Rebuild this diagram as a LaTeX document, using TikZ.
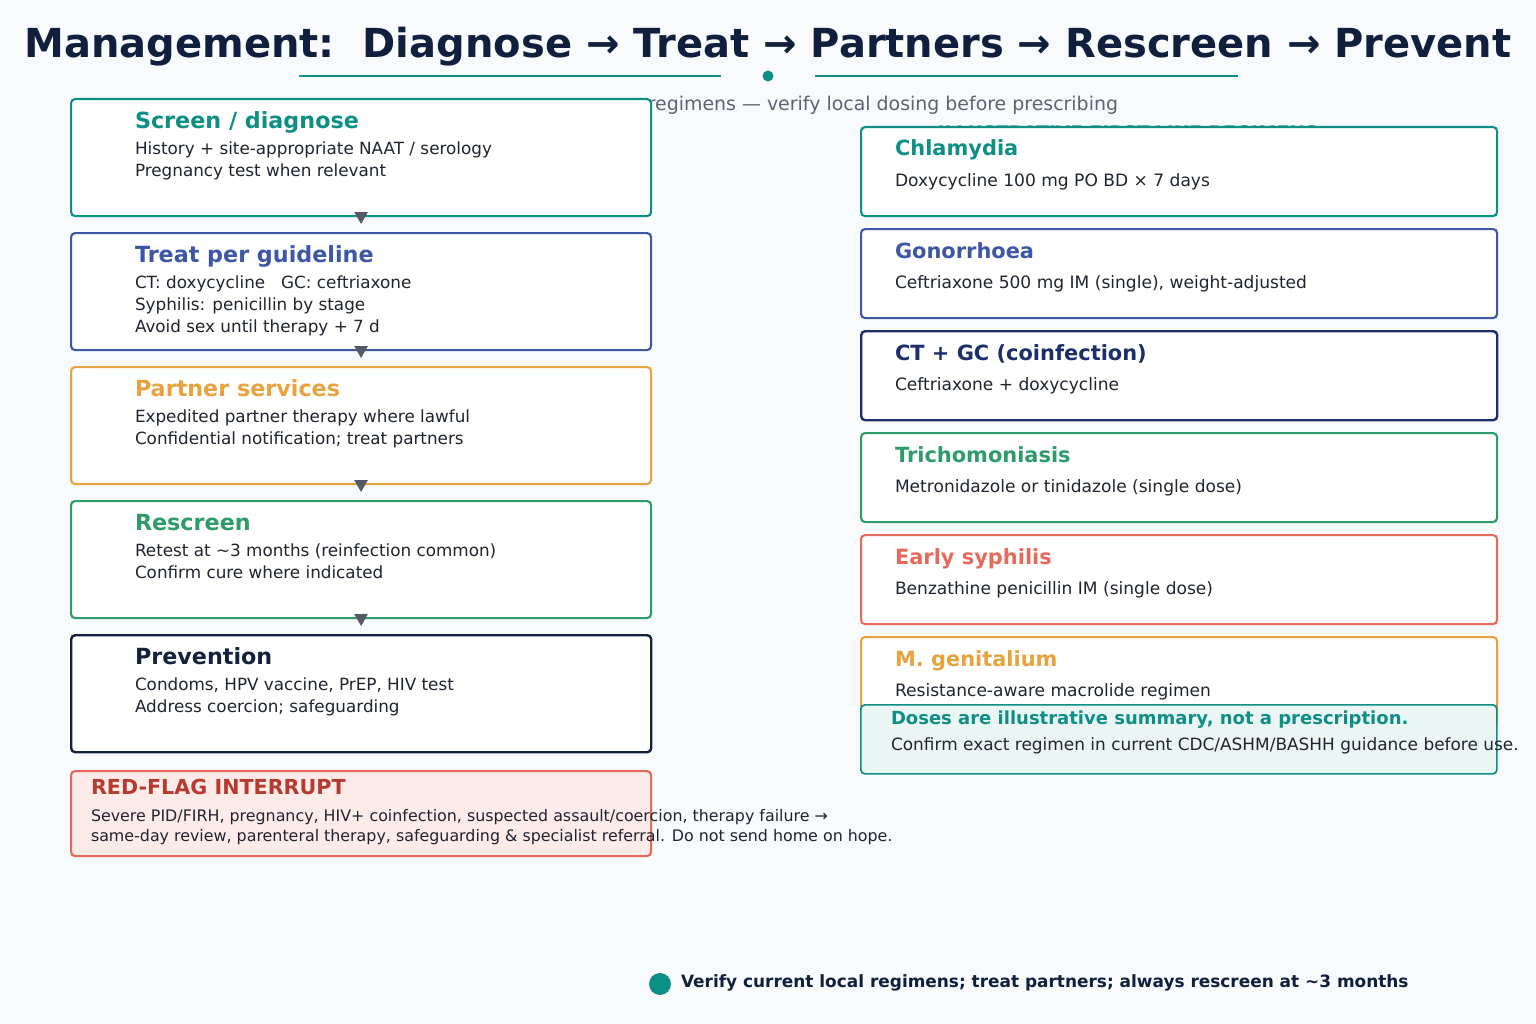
\documentclass[tikz,border=0pt]{standalone}
\usepackage{fontspec}
\setmainfont{DejaVu Sans}
\usetikzlibrary{arrows.meta,positioning,calc}
\definecolor{mgBg}{HTML}{F8FAFC}
\definecolor{mgInk}{HTML}{0F1F3D}
\definecolor{mgText}{HTML}{1F2430}
\definecolor{mgGrey}{HTML}{5B6472}
\definecolor{mgArrow}{HTML}{555B66}
\definecolor{mgTeal}{HTML}{0E8F86}
\definecolor{mgBlue}{HTML}{3D56A6}
\definecolor{mgOrange}{HTML}{E8A23E}
\definecolor{mgGreen}{HTML}{2E9C68}
\definecolor{mgNavy}{HTML}{14213D}
\definecolor{mgDeep}{HTML}{1C2E6C}
\definecolor{mgRed}{HTML}{E66A5C}
\definecolor{mgRedInk}{HTML}{B53A2F}
\definecolor{mgRedFill}{HTML}{FDEBEA}
\definecolor{mgNoteFill}{HTML}{EBF6F4}
\tikzset{
  mg/.style={line width=1.5pt, >={Triangle[length=9pt, width=10pt]}},
  stage/.style={draw, fill=white, rounded corners=3pt, line width=1.6pt, anchor=north west,
    minimum width=435pt, minimum height=87.75pt, inner sep=0pt},
  drug/.style={stage, minimum width=477pt, minimum height=66.75pt},
  htitle/.style={font=\fontsize{16.7}{19}\selectfont\bfseries, anchor=base west, inner sep=0pt},
  dtitle/.style={htitle, font=\fontsize{15.7}{18}\selectfont\bfseries},
  body/.style={font=\fontsize{12.6}{16.5}\selectfont, text=mgText, align=left, anchor=north west, inner sep=0pt},
  dbody/.style={body, font=\fontsize{12.8}{16.5}\selectfont},
  flow/.style={->, draw=mgArrow, line width=1.2pt, shorten >=6pt},
}
\begin{document}
\begin{tikzpicture}[mg, x=0.75pt, y=-0.75pt]
\fill[mgBg] (0,0) rectangle (1536,1024);
\useasboundingbox (0,0) rectangle (1536,1024);
% nagłówek
\node[font=\fontsize{30}{34}\selectfont\bfseries, text=mgInk, inner sep=0pt] (title) at (768,47)
  {Management:\ \ Diagnose → Treat → Partners → Rescreen → Prevent};
\coordinate (ruleL) at (299,76);
\coordinate (ruleR) at (1238,76);
\fill[mgTeal] (768,76) circle (5.5) coordinate (ruleDot);
\draw[mgTeal, line width=2.2pt] (ruleL) -- ++(422,0);
\draw[mgTeal, line width=2.2pt] (ruleR) -- ++(-423,0);
\node[font=\fontsize{14.2}{17}\selectfont, text=mgGrey, anchor=base east, inner sep=0pt] (sub) at (1119,111)
  {regimens — verify local dosing before prescribing};
\node[font=\fontsize{14}{16}\selectfont\bfseries, text=mgTeal, anchor=base, inner sep=0pt] (regHead) at (1128,139.5)
  {ILLUSTRATIVE FIRST-LINE REGIMENS};

% kolumna lewa: ścieżka postępowania
\node[stage, draw=mgTeal] (screen) at (70,98) {};
\node[htitle, text=mgTeal] (screenT) at (134,128) {Screen / diagnose};
\node[body] (screenB) at (134,141) {History + site-appropriate NAAT / serology\\Pregnancy test when relevant};

\node[stage, draw=mgBlue] (treat) at (70,232) {};
\node[htitle, text=mgBlue] (treatT) at (134,262) {Treat per guideline};
\node[body] (treatB) at (134,275) {CT: doxycycline\ \ \ GC: ceftriaxone\\Syphilis: penicillin by stage\\Avoid sex until therapy + 7 d};

\node[stage, draw=mgOrange] (partner) at (70,366) {};
\node[htitle, text=mgOrange] (partnerT) at (134,396) {Partner services};
\node[body] (partnerB) at (134,409) {Expedited partner therapy where lawful\\Confidential notification; treat partners};

\node[stage, draw=mgGreen] (rescreen) at (70,500) {};
\node[htitle, text=mgGreen] (rescreenT) at (134,530) {Rescreen};
\node[body] (rescreenB) at (134,543) {Retest at \textasciitilde3 months (reinfection common)\\Confirm cure where indicated};

\node[stage, draw=mgNavy, line width=1.8pt] (prevent) at (70,634) {};
\node[htitle, text=mgNavy] (preventT) at (134,664) {Prevention};
\node[body] (preventB) at (134,677) {Condoms, HPV vaccine, PrEP, HIV test\\Address coercion; safeguarding};

\draw[flow] (screen.south) -- (treat.north);
\draw[flow] (treat.south) -- (partner.north);
\draw[flow] (partner.south) -- (rescreen.north);
\draw[flow] (rescreen.south) -- (prevent.north);

\node[stage, draw=mgRed, fill=mgRedFill, minimum height=63.75pt] (redflag) at (70,770) {};
\node[htitle, font=\fontsize{15.5}{18}\selectfont\bfseries, text=mgRedInk] (redflagT) at (90,794) {RED-FLAG INTERRUPT};
\node[body, font=\fontsize{11.9}{15}\selectfont] (redflagB) at (90,808)
  {Severe PID/FIRH, pregnancy, HIV+ coinfection, suspected assault/coercion, therapy failure →\\
   same-day review, parenteral therapy, safeguarding \& specialist referral. Do not send home on hope.};

% kolumna prawa: schematy leczenia
\node[drug, draw=mgTeal] (chlam) at (860,126) {};
\node[dtitle, text=mgTeal] (chlamT) at (894,156) {Chlamydia};
\node[dbody] (chlamB) at (894,173) {Doxycycline 100 mg PO BD × 7 days};

\node[drug, draw=mgBlue] (gono) at (860,228) {};
\node[dtitle, text=mgBlue] (gonoT) at (894,258) {Gonorrhoea};
\node[dbody] (gonoB) at (894,275) {Ceftriaxone 500 mg IM (single), weight-adjusted};

\node[drug, draw=mgDeep, line width=1.8pt] (coinf) at (860,330) {};
\node[dtitle, text=mgDeep] (coinfT) at (894,360) {CT + GC (coinfection)};
\node[dbody] (coinfB) at (894,377) {Ceftriaxone + doxycycline};

\node[drug, draw=mgGreen] (trich) at (860,432) {};
\node[dtitle, text=mgGreen] (trichT) at (894,462) {Trichomoniasis};
\node[dbody] (trichB) at (894,479) {Metronidazole or tinidazole (single dose)};

\node[drug, draw=mgRed] (syph) at (860,534) {};
\node[dtitle, text=mgRed] (syphT) at (894,564) {Early syphilis};
\node[dbody] (syphB) at (894,581) {Benzathine penicillin IM (single dose)};

\node[drug, draw=mgOrange] (mgen) at (860,636) {};
\node[dtitle, text=mgOrange] (mgenT) at (894,666) {M. genitalium};
\node[dbody] (mgenB) at (894,683) {Resistance-aware macrolide regimen};

\node[drug, draw=mgTeal, fill=mgNoteFill, line width=1.3pt, minimum height=51.75pt] (note) at (860,704) {};
\node[htitle, font=\fontsize{13.5}{16}\selectfont\bfseries, text=mgTeal] (noteT) at (890,724)
  {Doses are illustrative summary, not a prescription.};
\node[dbody, font=\fontsize{12.7}{16.5}\selectfont] (noteB) at (890,737) {Confirm exact regimen in current CDC/ASHM/BASHH guidance before use.};

% stopka
\fill[mgTeal] (660,984) circle (11) coordinate (footDot);
\node[font=\fontsize{12.7}{15}\selectfont\bfseries, text=mgInk, anchor=west, inner sep=0pt] (foot) at (680,983)
  {Verify current local regimens; treat partners; always rescreen at \textasciitilde3 months};
\end{tikzpicture}
\end{document}
